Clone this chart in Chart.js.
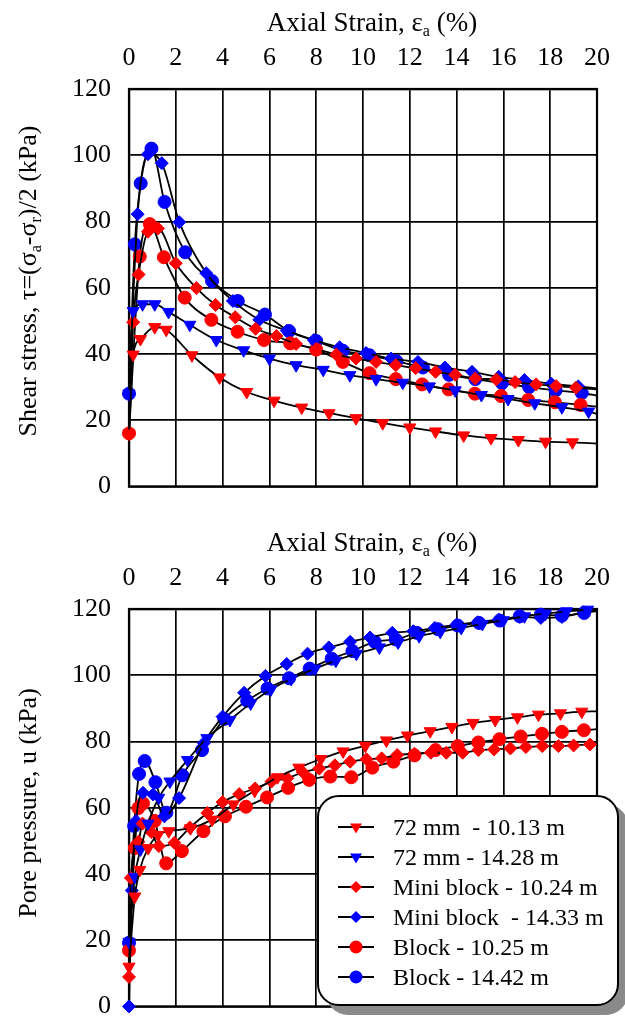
<!DOCTYPE html>
<html>
<head>
<meta charset="utf-8">
<script src="https://cdn.jsdelivr.net/npm/chart.js@4.4.1/dist/chart.umd.min.js"></script>
<style>
  html, body { margin: 0; padding: 0; background: #fff; overflow: hidden; }
  #wrap { position: relative; width: 625px; height: 1027px; }
  canvas { position: absolute; left: 0; }
  #c1 { top: 0; }
  #c2 { top: 520px; }
  #legend {
    position: absolute; left: 317px; top: 795px; width: 302px; height: 211px;
    border: 2px solid #000; border-radius: 22px; background: #fff;
    box-shadow: 9px 9px 0 #8a8a8a; box-sizing: border-box; padding-top: 15px;
    font-family: "Liberation Serif", serif; font-size: 24px; color: #000;
  }
  .row { height: 30px; display: flex; align-items: center; }
  .row svg { margin-left: 19px; margin-right: 19px; flex: none; }
  .row span { white-space: pre; }
</style>
</head>
<body>
<div id="wrap">
  <canvas id="c1" width="625" height="520"></canvas>
  <canvas id="c2" width="625" height="520"></canvas>
  <div id="legend"></div>
</div>
<script>
// ---- data ----
var labels = ['72 mm  - 10.13 m', '72 mm - 14.28 m', 'Mini block - 10.24 m', 'Mini block  - 14.33 m', 'Block - 10.25 m', 'Block - 14.42 m'];
var xTicks = [0, 2, 4, 6, 8, 10, 12, 14, 16, 18, 20];
var yTicks = [0, 20, 40, 60, 80, 100, 120];

// shear stress (kPa) vs axial strain (%)
var tau72_1013 = [[0,16],[0.18,39.8],[0.49,44.5],[1.1,48.1],[1.59,47.3],[2.69,39.6],[3.87,32.9],[5.03,28.5],[6.2,25.9],[7.38,23.8],[8.55,22.1],[9.7,20.6],[10.84,19.1],[12,17.8],[13.1,16.6],[14.3,15.4],[15.47,14.6],[16.64,14],[17.8,13.5],[18.95,13.3],[20,12.9]];
var tau72_1428 = [[0,28],[0.18,53],[0.58,55],[1.1,55],[1.69,52.7],[2.6,48.8],[3.73,44.2],[4.9,41.1],[6,38.6],[7.14,36.6],[8.3,35.2],[9.44,33.6],[10.56,32.4],[11.7,31.3],[12.84,30.2],[13.94,29],[15.06,27.6],[16.2,26.4],[17.34,25.1],[18.5,23.9],[19.64,22.6],[20,21.9]];
var tauMini_1024 = [[0,16],[0.18,49.6],[0.41,64],[0.81,76.9],[1.24,77.9],[2,67.4],[2.88,59.9],[3.7,54.8],[4.54,51.1],[5.41,47.6],[6.3,45.4],[7.14,43],[8,41.5],[8.86,39.8],[9.7,38.6],[10.56,37.6],[11.4,36.6],[12.25,35.7],[13.1,34.6],[13.94,33.7],[14.8,32.6],[15.7,32.3],[16.5,31.5],[17.4,30.8],[18.25,30.3],[19.1,29.8],[20,29.3]];
var tauMini_1433 = [[0,28],[0.37,82.2],[0.81,100.3],[1.4,97.6],[2.15,79.8],[3.3,64.4],[4.44,56],[5.57,50.3],[6.75,47],[7.9,44.2],[9,42],[10.13,40.3],[11.2,38.6],[12.35,37.6],[13.5,35.9],[14.66,34.6],[15.8,33.1],[16.9,32.1],[18.05,31],[19.2,30.2],[20,29.6]];
var tauBlock_1025 = [[0,16],[0.46,69.4],[0.89,79.2],[1.49,69.2],[2.38,57],[3.52,50.3],[4.64,46.7],[5.77,44.2],[6.89,43.2],[8,41.3],[9.14,37.6],[10.28,34.2],[11.4,32.4],[12.53,30.8],[13.66,29.3],[14.78,28],[15.9,27.3],[17.06,26.1],[18.2,25.4],[19.3,24.6],[20,24.1]];
var tauBlock_1442 = [[0,28],[0.25,73.1],[0.5,91.5],[0.96,102],[1.52,85.9],[2.4,70.7],[3.55,62],[4.65,56],[5.81,51.9],[6.84,46.9],[8,43.9],[9.14,41],[10.28,39.6],[11.43,37.8],[12.56,35.9],[13.68,33.7],[14.8,32.4],[15.94,31.2],[17.1,30],[18.23,29],[19.35,28.2],[20,27.4]];

// pore pressure (kPa) vs axial strain (%)
var u72_1013 = [[0,12],[0.25,33.2],[0.46,41.2],[0.82,47.8],[1.24,51.8],[1.7,52.9],[2.63,53.8],[3.55,56.4],[4.46,61],[5.37,65.1],[6.35,69.2],[7.26,72.1],[8.2,74.7],[9.15,77],[10.1,78.7],[11,80.3],[11.9,81.8],[12.87,83.1],[13.8,84.4],[14.7,85.6],[15.65,86.5],[16.6,87.3],[17.5,88.1],[18.44,88.5],[19.35,89],[20,89.1]];
var u72_1428 = [[0,19.5],[0.25,39.1],[0.49,47.4],[0.81,55.2],[1.27,63],[1.75,67.9],[2.5,74.4],[3.33,81],[4.31,86.5],[5.2,91.5],[6.06,95.7],[6.93,98.9],[7.95,102],[8.84,104.4],[9.72,106.5],[10.7,108.4],[11.5,109.9],[12.4,111.8],[13.3,113.1],[14.2,114.3],[15.1,115.5],[16,116.6],[16.9,117.8],[17.8,118.6],[18.7,119.3],[19.6,119.8],[20,120]];
var uMini_1024 = [[0,8.9],[0.08,38.8],[0.4,49.7],[0.58,55.2],[0.96,52.6],[1.28,48.4],[1.94,49.4],[2.6,54],[3.35,58.4],[4,61.7],[4.71,64.1],[5.39,65.8],[6.09,67.9],[6.76,68.9],[7.43,70.7],[8.13,71.8],[8.8,72.8],[9.45,73.9],[10.15,74.6],[10.8,74.9],[11.46,75.9],[12.2,76.3],[12.9,76.6],[13.56,76.6],[14.26,76.6],[14.93,77.4],[15.6,77.6],[16.3,77.9],[16.96,78.3],[17.66,78.6],[18.35,78.6],[19,78.8],[19.7,79.1],[20,79.2]];
var uMini_1433 = [[0,0],[0.12,35],[0.3,56],[0.6,64.5],[1.03,64],[1.51,57.4],[2.14,62.9],[3.2,79.5],[4,87.5],[4.92,94.7],[5.83,99.8],[6.74,103.4],[7.63,106.5],[8.54,108.4],[9.45,110.1],[10.3,111.4],[11.25,112.8],[12.15,113.3],[13.07,114.3],[14,115.3],[14.9,116],[15.8,116.8],[16.7,117.6],[17.6,117.3],[18.5,117.6],[19.44,119],[20,119.6]];
var uBlock_1025 = [[0,16.9],[0.25,47.8],[0.4,59.9],[0.6,61.3],[1.1,56],[1.59,43.2],[2.26,46.9],[3.18,52.9],[4.1,57.4],[5,60.3],[5.9,63.1],[6.8,66],[7.7,68.4],[8.6,69.4],[9.5,69.2],[10.4,72.1],[11.3,73.9],[12.2,75.8],[13.1,77.4],[14.05,78.6],[14.93,79.7],[15.83,80.7],[16.74,81.5],[17.65,82.3],[18.5,82.9],[19.44,83.4],[20,83.7]];
var uBlock_1442 = [[0,19.2],[0.22,54.5],[0.43,70.2],[0.67,74.1],[1.13,67.7],[1.6,58.5],[2.28,69.8],[3.12,77.4],[4.07,86.8],[5.05,92.3],[5.92,96],[6.84,99.1],[7.72,102],[8.66,105],[9.55,107.3],[10.5,110.1],[11.4,110.8],[12.3,112.8],[13.2,113.9],[14.05,115],[14.96,115.8],[15.85,116.5],[16.7,117.8],[17.6,118.3],[18.5,118],[19.45,118.8],[20,119.4]];

// marker look per series (same order as labels)
var RED = '#ff0000', BLUE = '#0000ff';
var looks = [
  { color: RED,  style: 'triangle', rot: 180, r: 7 },
  { color: BLUE, style: 'triangle', rot: 180, r: 7 },
  { color: RED,  style: 'rectRot',  rot: 0,   r: 6.5 },
  { color: BLUE, style: 'rectRot',  rot: 0,   r: 6.5 },
  { color: RED,  style: 'circle',   rot: 0,   r: 6.5 },
  { color: BLUE, style: 'circle',   rot: 0,   r: 6.5 }
];

var FONT = '"Liberation Serif", "Times New Roman", serif';

// draws a title with subscripts, parts = [[text, isSub], ...]
function drawRich(ctx, parts, x, y, size, vertical) {
  ctx.save();
  ctx.translate(x, y);
  if (vertical) ctx.rotate(-Math.PI / 2);
  ctx.fillStyle = '#000';
  ctx.textBaseline = 'middle';
  ctx.textAlign = 'left';
  var big = size + 'px ' + FONT;
  var small = Math.round(size * 0.6) + 'px ' + FONT;
  var w = 0;
  parts.forEach(function(p) { ctx.font = p[1] ? small : big; w += ctx.measureText(p[0]).width; });
  var cx = -w / 2;
  parts.forEach(function(p) {
    ctx.font = p[1] ? small : big;
    ctx.fillText(p[0], cx, p[1] ? size * 0.3 : 0);
    cx += ctx.measureText(p[0]).width;
  });
  ctx.restore();
}

var titlesPlugin = {
  id: 'titles',
  beforeDatasetsDraw: function(chart) {
    var a = chart.chartArea, ctx = chart.ctx;
    ctx.save();
    ctx.strokeStyle = '#000';
    ctx.lineWidth = 2.2;
    ctx.strokeRect(a.left, a.top, a.right - a.left, a.bottom - a.top);
    ctx.restore();
  },
  afterDraw: function(chart, args, opts) {
    var ctx = chart.ctx;
    drawRich(ctx, [['Axial Strain, ε', 0], ['a', 1], [' (%)', 0]], opts.xTitleX, opts.xTitleY, 27, false);
    drawRich(ctx, opts.yParts, opts.yTitleX, opts.yTitleY, 26, true);
  }
};

function makeSets(series) {
  return series.map(function(s, i) {
    var lk = looks[i];
    return {
      label: labels[i],
      data: s,
      showLine: true,
      borderColor: '#000',
      borderWidth: 1.8,
      cubicInterpolationMode: 'monotone',
      pointStyle: lk.style,
      pointRotation: lk.rot,
      pointRadius: function(c) { return c.dataIndex === s.length - 1 ? 0 : lk.r; },
      pointBackgroundColor: lk.color,
      pointBorderColor: lk.color,
      pointBorderWidth: 1,
      clip: false
    };
  });
}

function makeChart(id, series, yParts, yTitleY) {
  var tickFont = { family: FONT, size: 26 };
  return new Chart(document.getElementById(id), {
    type: 'scatter',
    data: { datasets: makeSets(series) },
    options: {
      responsive: false,
      animation: false,
      events: [],
      layout: { padding: { left: 0, right: 21, top: 0, bottom: 23 } },
      plugins: {
        legend: { display: false },
        tooltip: { enabled: false },
        titles: { xTitleX: 372, xTitleY: 24, yTitleX: 29, yTitleY: yTitleY, yParts: yParts }
      },
      scales: {
        x: {
          type: 'linear', position: 'top', min: 0, max: 20,
          afterBuildTicks: function(s) { s.ticks = xTicks.map(function(v) { return { value: v }; }); },
          afterFit: function(s) { s.height = 89; },
          ticks: { color: '#000', font: tickFont, padding: 15, maxRotation: 0 },
          grid: { color: '#000', lineWidth: 1.7, drawTicks: false },
          border: { color: '#000', width: 2.2 }
        },
        y: {
          min: 0, max: 120,
          afterBuildTicks: function(s) { s.ticks = yTicks.map(function(v) { return { value: v }; }); },
          afterFit: function(s) { s.width = 129; },
          ticks: { color: '#000', font: tickFont, padding: 18 },
          grid: { color: '#000', lineWidth: 1.7, drawTicks: false },
          border: { color: '#000', width: 2.2 }
        }
      }
    },
    plugins: [titlesPlugin]
  });
}

makeChart('c1', [tau72_1013, tau72_1428, tauMini_1024, tauMini_1433, tauBlock_1025, tauBlock_1442],
  [['Shear stress, τ=(σ', 0], ['a', 1], ['-σ', 0], ['r', 1], [')/2 (kPa)', 0]], 281);
makeChart('c2', [u72_1013, u72_1428, uMini_1024, uMini_1433, uBlock_1025, uBlock_1442],
  [['Pore pressure, u (kPa)', 0]], 283);

// legend
var leg = document.getElementById('legend');
labels.forEach(function(t, i) {
  var lk = looks[i];
  var row = document.createElement('div');
  row.className = 'row';
  var mark;
  if (lk.style === 'circle') {
    mark = '<circle cx="18" cy="15" r="6.5" fill="' + lk.color + '"/>';
  } else if (lk.style === 'rectRot') {
    mark = '<polygon points="18,9 24,15 18,21 12,15" fill="' + lk.color + '"/>';
  } else {
    mark = '<polygon points="12,11.5 24,11.5 18,21.5" fill="' + lk.color + '"/>';
  }
  row.innerHTML = '<svg width="36" height="30"><line x1="0" y1="15" x2="36" y2="15" stroke="#000" stroke-width="2"/>' + mark + '</svg><span></span>';
  row.querySelector('span').textContent = t;
  leg.appendChild(row);
});
</script>
</body>
</html>
